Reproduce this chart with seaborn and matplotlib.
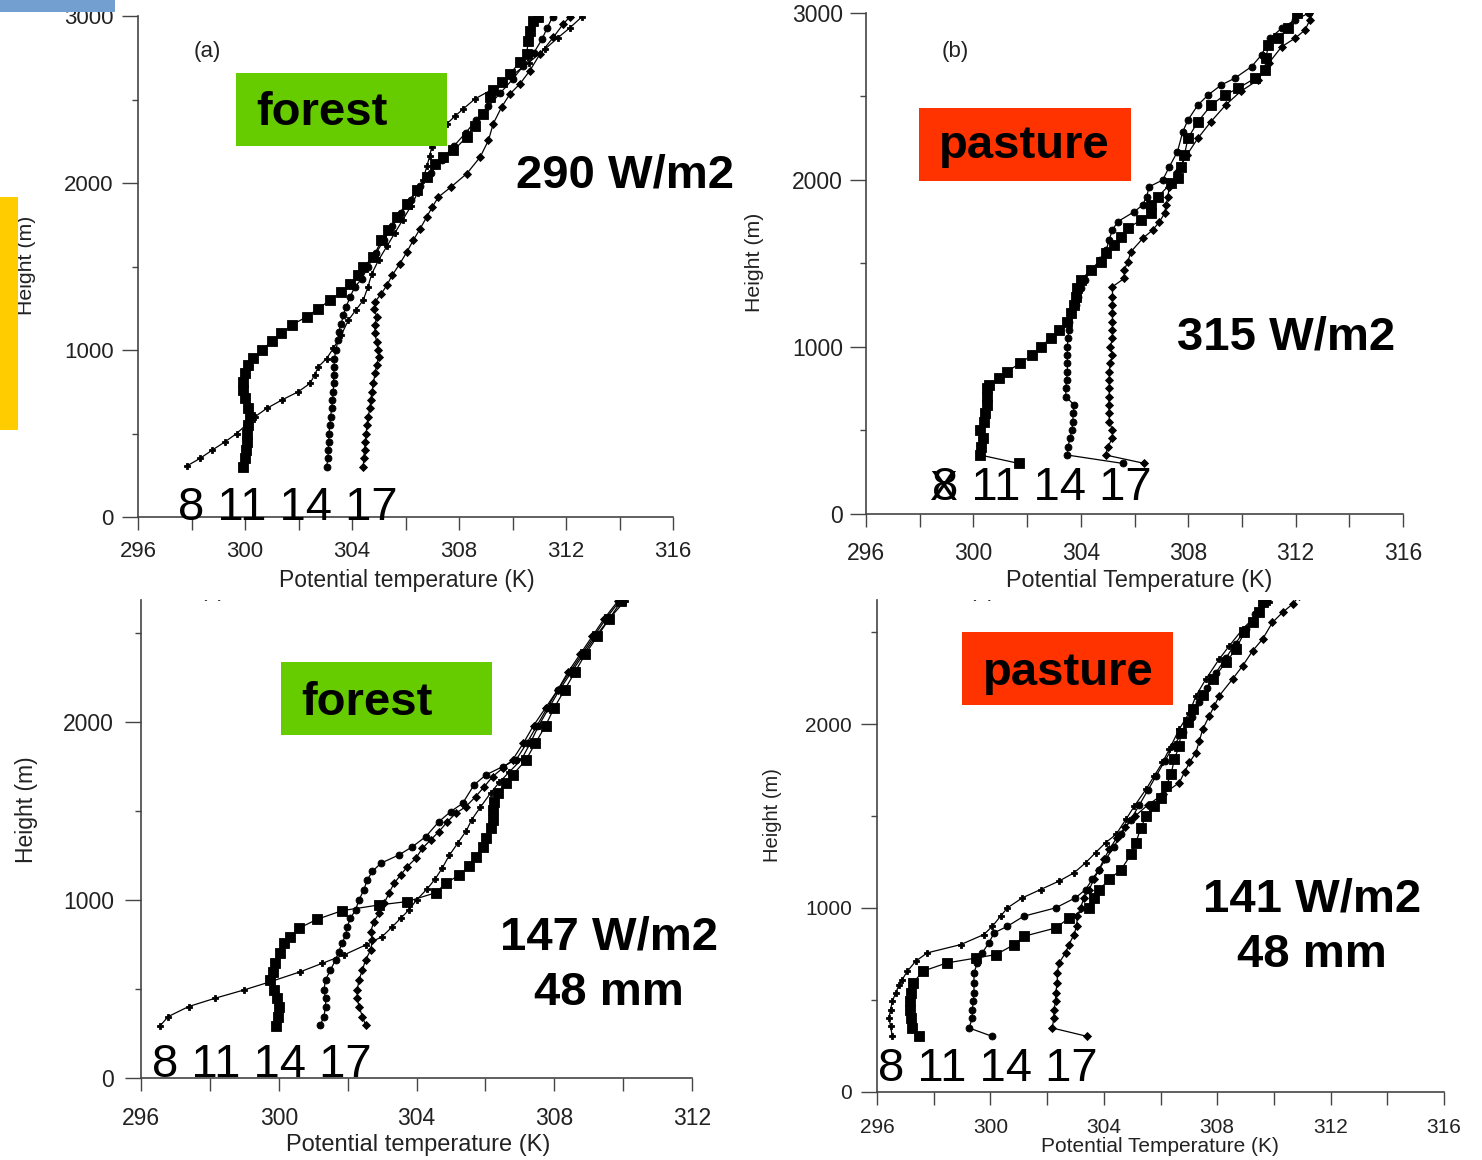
import matplotlib
matplotlib.use("Agg")
import matplotlib.pyplot as plt
import seaborn as sns
from matplotlib.patches import Rectangle
from matplotlib.ticker import MultipleLocator

W, H = 1482, 1160

# ---- panel (a): forest, 290 W/m2 ----
a_h08 = [305, 351, 401, 450, 500, 550, 600, 650, 700, 750, 800, 850, 899, 949, 1009, 1090, 1178, 1240, 1298,
         1380, 1457, 1540, 1620, 1700, 1780, 1860, 1940, 2020, 2100, 2160, 2215, 2290, 2354, 2400, 2444, 2504,
         2564, 2640, 2720, 2800, 2870, 2930, 2996]
a_t08 = [297.82, 298.32, 298.78, 299.25, 299.69, 300.03, 300.37, 300.81, 301.37, 301.99, 302.43, 302.6, 302.74,
         303.05, 303.30, 303.6, 303.86, 304.15, 304.42, 304.6, 304.74, 305.0, 305.3, 305.6, 305.9, 306.2, 306.45,
         306.65, 306.8, 306.9, 306.98, 307.3, 307.54, 307.85, 308.16, 308.6, 309.28, 309.95, 310.6, 311.2, 311.7,
         312.15, 312.6]
a_h11 = [301, 351, 401, 450, 500, 550, 600, 650, 710, 760, 810, 860, 909, 955, 999, 1054, 1099, 1152, 1198, 1248,
         1298, 1347, 1397, 1447, 1497, 1557, 1657, 1716, 1796, 1876, 1956, 2035, 2115, 2155, 2195, 2275, 2344,
         2414, 2514, 2554, 2604, 2654, 2723, 2773, 2853, 2913, 2972, 2996]
a_t11 = [299.94, 300.0, 300.03, 300.07, 300.08, 300.1, 300.2, 300.1, 300.0, 299.94, 299.94, 300.0, 300.12, 300.31,
         300.65, 301.0, 301.35, 301.77, 302.3, 302.74, 303.18, 303.6, 303.93, 304.24, 304.42, 304.8, 305.1,
         305.36, 305.67, 306.04, 306.42, 306.79, 307.1, 307.41, 307.79, 308.29, 308.6, 308.91, 309.16, 309.28,
         309.6, 309.9, 310.28, 310.53, 310.59, 310.65, 310.78, 310.97]
a_h14 = [301, 351, 401, 450, 500, 550, 600, 650, 700, 750, 800, 850, 900, 949, 999, 1058, 1108, 1158, 1208, 1258,
         1318, 1377, 1427, 1500, 1580, 1660, 1740, 1820, 1900, 1980, 2060, 2140, 2220, 2300, 2380, 2460, 2540,
         2620, 2700, 2780, 2860, 2930, 2996]
a_t14 = [303.05, 303.1, 303.11, 303.13, 303.14, 303.17, 303.2, 303.24, 303.27, 303.3, 303.31, 303.32, 303.33,
         303.34, 303.4, 303.47, 303.5, 303.6, 303.67, 303.78, 303.93, 304.1, 304.37, 304.6, 304.9, 305.2, 305.5,
         305.85, 306.2, 306.55, 306.95, 307.35, 307.8, 308.25, 308.65, 309.1, 309.55, 310.0, 310.4, 310.8, 311.1,
         311.3, 311.5]
a_h17 = [301, 351, 401, 450, 500, 550, 600, 650, 700, 750, 800, 860, 909, 959, 999, 1049, 1099, 1148, 1198, 1248,
         1288, 1338, 1387, 1447, 1517, 1587, 1657, 1727, 1796, 1856, 1916, 1976, 2056, 2155, 2255, 2355, 2454,
         2534, 2594, 2673, 2773, 2873, 2953, 2996]
a_t17 = [304.42, 304.44, 304.47, 304.5, 304.53, 304.56, 304.6, 304.67, 304.7, 304.75, 304.8, 304.86, 304.92,
         305.0, 304.98, 304.92, 304.86, 304.86, 304.92, 304.84, 304.86, 305.1, 305.3, 305.5, 305.79, 306.05,
         306.29, 306.55, 306.79, 307.0, 307.23, 307.7, 308.29, 308.79, 309.1, 309.28, 309.59, 309.91, 310.28,
         310.65, 311.03, 311.53, 311.9, 312.15]

# ---- panel (b): pasture, 315 W/m2 ----
b_h11 = [303, 353, 403, 453, 503, 553, 603, 653, 703, 753, 772, 813, 853, 902, 952, 1002, 1052, 1102, 1152, 1202,
         1251, 1301, 1351, 1401, 1461, 1511, 1561, 1611, 1661, 1711, 1760, 1800, 1850, 1900, 1980, 2010, 2080,
         2150, 2250, 2349, 2449, 2509, 2549, 2609, 2659, 2729, 2808, 2848, 2908, 2998]
b_t11 = [301.69, 300.26, 300.3, 300.34, 300.26, 300.38, 300.45, 300.49, 300.5, 300.52, 300.57, 300.95, 301.26,
         301.73, 302.19, 302.5, 302.88, 303.19, 303.5, 303.63, 303.75, 303.81, 303.87, 304.0, 304.37, 304.75,
         304.93, 305.25, 305.5, 305.75, 306.24, 306.62, 306.62, 306.87, 307.36, 307.61, 307.75, 307.86, 307.99,
         308.36, 308.86, 309.36, 309.86, 310.48, 310.85, 310.9, 310.98, 311.35, 311.73, 312.04]
b_h14 = [303, 353, 403, 453, 503, 553, 603, 653, 703, 753, 802, 852, 902, 952, 1002, 1052, 1102, 1152, 1202, 1251,
         1301, 1351, 1401, 1461, 1520, 1580, 1640, 1701, 1750, 1810, 1850, 1900, 1960, 2000, 2080, 2170, 2290,
         2359, 2449, 2509, 2569, 2609, 2679, 2749, 2848, 2908, 2958, 3000]
b_t14 = [305.56, 303.5, 303.52, 303.6, 303.67, 303.7, 303.72, 303.75, 303.44, 303.44, 303.47, 303.5, 303.5,
         303.5, 303.5, 303.52, 303.55, 303.55, 303.63, 303.81, 303.9, 304.0, 304.15, 304.4, 304.7, 304.95, 305.05,
         305.18, 305.37, 305.99, 306.3, 306.45, 306.55, 307.05, 307.3, 307.6, 307.8, 307.99, 308.36, 308.74,
         309.23, 309.73, 310.36, 310.73, 311.04, 311.48, 311.97, 312.5]
b_h17 = [303, 353, 403, 453, 503, 553, 603, 653, 703, 753, 802, 852, 902, 952, 1002, 1052, 1102, 1152, 1202, 1251,
         1301, 1361, 1411, 1461, 1511, 1571, 1651, 1701, 1750, 1800, 1850, 1900, 1960, 2050, 2150, 2250, 2350,
         2450, 2530, 2599, 2700, 2798, 2848, 2898, 2958, 3000]
b_t17 = [306.37, 304.93, 305.0, 305.18, 305.18, 305.06, 305.06, 305.04, 305.06, 305.06, 305.06, 305.06, 305.1,
         305.18, 305.1, 305.18, 305.18, 305.18, 305.18, 305.18, 305.18, 305.18, 305.62, 305.62, 305.75, 305.87,
         306.31, 306.68, 306.93, 307.12, 307.18, 307.24, 307.3, 307.6, 307.95, 308.36, 308.85, 309.4, 309.95,
         310.6, 311.0, 311.48, 311.97, 312.35, 312.53, 312.5]

# ---- panel (c): forest, 147 W/m2, 48 mm ----
c_h08 = [292, 345, 401, 448, 494, 541, 597, 644, 691, 747, 794, 850, 897, 944, 1000, 1060, 1120, 1180, 1250, 1320,
         1390, 1450, 1520, 1600, 1660, 1720, 1790, 1880, 1980, 2080, 2180, 2280, 2380, 2480, 2580, 2680, 2720]
c_t08 = [296.55, 296.79, 297.38, 298.15, 298.98, 299.76, 300.63, 301.26, 301.89, 302.52, 303.0, 303.3, 303.54,
         303.78, 304.0, 304.3, 304.55, 304.75, 304.95, 305.2, 305.45, 305.6, 305.85, 306.15, 306.4, 306.7, 307.05,
         307.3, 307.55, 307.85, 308.15, 308.5, 308.85, 309.2, 309.6, 310.05, 310.2]
c_h11 = [292, 345, 401, 448, 494, 551, 597, 644, 700, 757, 794, 841, 891, 940, 972, 991, 1041, 1094, 1140, 1191,
         1243, 1299, 1346, 1403, 1449, 1506, 1552, 1599, 1656, 1702, 1787, 1880, 1980, 2080, 2180, 2280, 2380,
         2480, 2580, 2680, 2720]
c_t11 = [299.92, 299.98, 300.0, 299.95, 299.85, 299.76, 299.82, 299.9, 300.05, 300.14, 300.34, 300.58, 301.11,
         301.84, 302.91, 303.73, 304.56, 304.85, 305.24, 305.53, 305.72, 305.92, 306.01, 306.16, 306.21, 306.21,
         306.26, 306.36, 306.6, 306.79, 307.18, 307.45, 307.75, 308.0, 308.3, 308.6, 308.9, 309.25, 309.6,
         309.95, 310.1]
c_h14 = [298, 345, 401, 448, 494, 551, 607, 663, 710, 757, 803, 850, 897, 944, 1000, 1057, 1113, 1160, 1206, 1253,
         1299, 1356, 1440, 1496, 1543, 1646, 1702, 1749, 1787, 1880, 1980, 2080, 2180, 2280, 2380, 2480, 2580,
         2680, 2720]
c_t14 = [301.21, 301.31, 301.36, 301.36, 301.31, 301.36, 301.5, 301.65, 301.74, 301.84, 301.94, 301.99, 302.08,
         302.23, 302.33, 302.47, 302.57, 302.72, 302.96, 303.49, 303.88, 304.27, 304.65, 304.99, 305.34, 305.67,
         306.01, 306.5, 306.89, 307.2, 307.5, 307.8, 308.1, 308.45, 308.8, 309.15, 309.5, 309.9, 310.05]
c_h17 = [298, 345, 401, 448, 494, 551, 607, 663, 719, 775, 822, 878, 925, 981, 1038, 1094, 1140, 1187, 1234, 1290,
         1337, 1384, 1440, 1487, 1524, 1581, 1637, 1693, 1740, 1787, 1880, 1980, 2080, 2180, 2280, 2380, 2480,
         2580, 2680, 2720]
c_t17 = [302.52, 302.43, 302.33, 302.28, 302.28, 302.33, 302.43, 302.52, 302.67, 302.72, 302.67, 302.76, 302.91,
         303.06, 303.2, 303.35, 303.54, 303.73, 303.98, 304.17, 304.41, 304.65, 304.9, 305.14, 305.43, 305.72,
         305.97, 306.21, 306.5, 306.79, 307.1, 307.4, 307.75, 308.1, 308.4, 308.75, 309.1, 309.45, 309.85, 310.0]

# ---- panel (d): pasture, 141 W/m2, 48 mm ----
d_h08 = [300, 355, 400, 446, 491, 537, 582, 610, 655, 709, 755, 800, 855, 900, 955, 1000, 1055, 1100, 1146, 1191,
         1246, 1301, 1355, 1400, 1482, 1555, 1646, 1719, 1792, 1864, 1973, 2064, 2155, 2246, 2355, 2428, 2519,
         2610, 2664, 2700]
d_t08 = [296.54, 296.48, 296.42, 296.48, 296.54, 296.66, 296.78, 296.89, 297.07, 297.36, 297.77, 298.95, 299.77,
         300.07, 300.36, 300.6, 301.13, 301.77, 302.42, 302.95, 303.36, 303.71, 304.06, 304.43, 304.78, 305.08,
         305.49, 305.78, 306.07, 306.31, 306.66, 307.02, 307.25, 307.6, 308.07, 308.43, 308.9, 309.48, 309.84,
         310.0]
d_h11 = [300, 346, 400, 446, 491, 537, 591, 655, 700, 727, 746, 800, 846, 891, 946, 1000, 1055, 1100, 1155, 1209,
         1291, 1355, 1437, 1500, 1555, 1601, 1664, 1728, 1810, 1882, 1955, 2010, 2082, 2160, 2246, 2337, 2410,
         2501, 2555, 2610, 2664, 2700]
d_t11 = [297.48, 297.25, 297.19, 297.17, 297.17, 297.19, 297.28, 297.61, 298.46, 299.49, 300.2, 300.84, 301.2,
         302.31, 302.78, 303.49, 303.66, 303.84, 304.19, 304.61, 304.96, 305.13, 305.31, 305.49, 305.78, 306.02,
         306.2, 306.37, 306.49, 306.66, 306.72, 306.96, 307.13, 307.5, 307.84, 308.31, 308.66, 308.96, 309.25,
         309.48, 309.6, 309.7]
d_h14 = [300, 346, 400, 446, 491, 537, 591, 646, 700, 755, 810, 864, 900, 955, 1000, 1055, 1100, 1155, 1209, 1264,
         1330, 1400, 1480, 1560, 1640, 1720, 1800, 1880, 1960, 2040, 2120, 2200, 2280, 2360, 2440, 2520, 2600,
         2680, 2700]
d_t14 = [300.07, 299.25, 299.36, 299.36, 299.4, 299.42, 299.42, 299.42, 299.54, 299.71, 299.95, 300.13, 300.6,
         301.18, 302.3, 303.0, 303.36, 303.59, 303.83, 304.06, 304.35, 304.6, 304.95, 305.25, 305.55, 305.85,
         306.15, 306.45, 306.8, 307.1, 307.35, 307.65, 307.95, 308.3, 308.65, 309.0, 309.35, 309.75, 309.8]
d_h17 = [300, 346, 400, 446, 491, 537, 591, 646, 700, 755, 800, 855, 900, 955, 1000, 1055, 1100, 1155, 1209, 1264,
         1320, 1380, 1440, 1500, 1560, 1620, 1682, 1740, 1792, 1846, 1910, 1973, 2046, 2100, 2155, 2246, 2319,
         2400, 2464, 2555, 2610, 2655, 2700]
d_t17 = [303.42, 302.18, 302.24, 302.24, 302.3, 302.3, 302.36, 302.36, 302.42, 302.65, 302.77, 302.95, 303.04,
         303.07, 303.18, 303.3, 303.48, 303.65, 303.83, 304.0, 304.2, 304.45, 304.75, 305.1, 305.55, 306.1,
         306.66, 306.85, 307.02, 307.25, 307.37, 307.49, 307.72, 307.9, 308.07, 308.54, 308.9, 309.25, 309.6,
         309.95, 310.31, 310.66, 310.9]

hour_labels = "8 11 14 17"

# marker style per hour
styles = {
    8: dict(marker="P", markersize=4.5),
    11: dict(marker="s", markersize=6.5),
    14: dict(marker="o", markersize=5),
    17: dict(marker="D", markersize=3.8),
}

sns.set_theme(style="ticks")
plt.rcParams['font.family'] = ['Liberation Sans', 'DejaVu Sans']

fig = plt.figure(figsize=(W / 100, H / 100), dpi=100)


def fx(x):
    return x / W


def fy(y):
    return 1 - y / H


def add_panel(box, xlim, ylim, profiles, fs, xpad, ypad):
    x0, y0, x1, y1 = box
    ax = fig.add_axes([fx(x0), fy(y1), (x1 - x0) / W, (y1 - y0) / H])
    for hour, (t, h) in profiles.items():
        sns.lineplot(x=t, y=h, sort=False, estimator=None, color="black", linewidth=0.9,
                     markeredgecolor="black", markeredgewidth=0.6, ax=ax, **styles[hour])
    ax.set_xlim(*xlim)
    ax.set_ylim(*ylim)
    ax.xaxis.set_major_locator(MultipleLocator(4))
    ax.xaxis.set_minor_locator(MultipleLocator(2))
    ax.yaxis.set_major_locator(MultipleLocator(1000))
    ax.yaxis.set_minor_locator(MultipleLocator(500))
    ax.tick_params(axis="x", which="both", direction="out", length=9, width=1, color="#444444",
                   labelsize=fs, pad=xpad, labelcolor="#222222")
    ax.tick_params(axis="y", which="major", direction="out", length=11.5, width=1, color="#444444",
                   labelsize=fs, pad=ypad, labelcolor="#222222")
    ax.tick_params(axis="y", which="minor", direction="out", length=4.5, width=1, color="#444444")
    for s in ["top", "right"]:
        ax.spines[s].set_visible(False)
    for s in ["left", "bottom"]:
        ax.spines[s].set_color("#444444")
        ax.spines[s].set_linewidth(1.2)
    ax.set_xlabel("")
    ax.set_ylabel("")
    ax.patch.set_alpha(0)
    return ax


ax_a = add_panel((138, 16, 673, 517), (296, 316), (0, 3000),
                 {8: (a_t08, a_h08), 11: (a_t11, a_h11), 14: (a_t14, a_h14), 17: (a_t17, a_h17)},
                 16, 8, 6)
ax_b = add_panel((866, 13, 1403, 514), (296, 316), (0, 3000),
                 {11: (b_t11, b_h11), 14: (b_t14, b_h14), 17: (b_t17, b_h17)},
                 16.5, 11, 5)
ax_c = add_panel((141, 600, 692, 1078), (296, 312), (0, 2685),
                 {8: (c_t08, c_h08), 11: (c_t11, c_h11), 14: (c_t14, c_h14), 17: (c_t17, c_h17)},
                 16.5, 12, 8)
ax_d = add_panel((877, 600, 1444, 1091.5), (296, 316), (0, 2677),
                 {8: (d_t08, d_h08), 11: (d_t11, d_h11), 14: (d_t14, d_h14), 17: (d_t17, d_h17)},
                 15, 10, 6.5)


def ftxt(x, y, s, **kw):
    kw.setdefault("color", "black")
    return fig.text(fx(x), fy(y), s, **kw)


# axis titles
ftxt(407, 580, "Potential temperature (K)", ha="center", va="center", fontsize=16.5, color="#222222")
ftxt(1139, 580, "Potential Temperature (K)", ha="center", va="center", fontsize=16.8, color="#222222")
ftxt(418, 1145, "Potential temperature (K)", ha="center", va="center", fontsize=17, color="#222222")
ftxt(1160, 1147, "Potential Temperature (K)", ha="center", va="center", fontsize=15, color="#222222")
ftxt(27, 265, "Height (m)", ha="center", va="center", rotation=90, fontsize=15.3, color="#222222")
ftxt(755, 262, "Height (m)", ha="center", va="center", rotation=90, fontsize=15.3, color="#222222")
ftxt(27, 810, "Height (m)", ha="center", va="center", rotation=90, fontsize=16.5, color="#222222")
ftxt(773, 815, "Height (m)", ha="center", va="center", rotation=90, fontsize=14.5, color="#222222")

# panel letters
ftxt(207, 52, "(a)", ha="center", va="center", fontsize=16, color="#222222")
ftxt(955, 52, "(b)", ha="center", va="center", fontsize=16, color="#222222")
for ax, xp, letter in [(ax_c, 213, "(c)"), (ax_d, 982, "(d)")]:
    x0 = ax.get_position().x0 * W
    x1 = ax.get_position().x1 * W
    ax.text((xp - x0) / (x1 - x0), 1.02, letter, transform=ax.transAxes,
            ha="center", va="center", fontsize=16, color="#222222", clip_on=True)

# land cover boxes
boxes = [((236, 73, 447, 146), "#66cc00", "forest", 256, 125),
         ((919, 108, 1131, 181), "#ff3300", "pasture", 939, 158),
         ((281, 662, 492, 735), "#66cc00", "forest", 301, 715),
         ((962, 632, 1173, 705), "#ff3300", "pasture", 983, 685)]
for (x0, y0, x1, y1), col, label, tx, ty in boxes:
    fig.add_artist(Rectangle((fx(x0), fy(y1)), (x1 - x0) / W, (y1 - y0) / H, transform=fig.transFigure,
                             facecolor=col, edgecolor="none", zorder=3))
    ftxt(tx, ty, label, ha="left", va="baseline", fontsize=34, fontweight="bold", zorder=4)

# flux / rain annotations
ftxt(516, 188, "290 W/m2", ha="left", va="baseline", fontsize=34, fontweight="bold")
ftxt(1177, 350, "315 W/m2", ha="left", va="baseline", fontsize=34, fontweight="bold")
ftxt(609, 950, "147 W/m2", ha="center", va="baseline", fontsize=34, fontweight="bold")
ftxt(609, 1005, "48 mm", ha="center", va="baseline", fontsize=34, fontweight="bold")
ftxt(1312, 912, "141 W/m2", ha="center", va="baseline", fontsize=34, fontweight="bold")
ftxt(1312, 967, "48 mm", ha="center", va="baseline", fontsize=34, fontweight="bold")

# hour labels under the profiles
ftxt(178, 520, hour_labels, ha="left", va="baseline", fontsize=34)
ftxt(932, 500, hour_labels, ha="left", va="baseline", fontsize=34)
ftxt(929, 500, "X", ha="left", va="baseline", fontsize=30)
ftxt(152, 1077, hour_labels, ha="left", va="baseline", fontsize=34)
ftxt(878, 1081, hour_labels, ha="left", va="baseline", fontsize=34)

# slide decorations
fig.add_artist(Rectangle((0, fy(12)), 115 / W, 12 / H, transform=fig.transFigure,
                         facecolor="#729fcf", edgecolor="none", zorder=5))
fig.add_artist(Rectangle((0, fy(430)), 18 / W, 233 / H, transform=fig.transFigure,
                         facecolor="#ffcc00", edgecolor="none", zorder=5))

fig.savefig("out.png", dpi=100)
